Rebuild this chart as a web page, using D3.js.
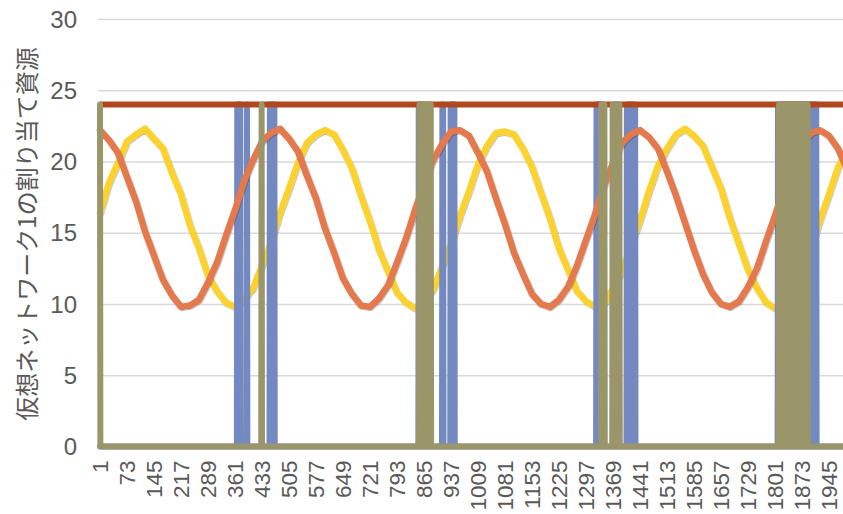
<!DOCTYPE html>
<html>
<head>
<meta charset="utf-8">
<script src="https://cdnjs.cloudflare.com/ajax/libs/d3/7.8.5/d3.min.js"></script>
<style>
	body { margin: 0; background: #fff; }
	svg { display: block; font-family: Arial, "Liberation Sans", sans-serif; }
</style>
</head>
<body>
<svg id="chart" width="843" height="514"></svg>
<script>

var categoryCount = 2000;
var sampleStep = 24;   // the two wave series were read every 24 categories
var capacity = 24;

var yTicks = [0, 5, 10, 15, 20, 25, 30];
var xTickLabels = [1, 73, 145, 217, 289, 361, 433, 505, 577, 649, 721, 793, 865, 937, 1009,
	1081, 1153, 1225, 1297, 1369, 1441, 1513, 1585, 1657, 1729, 1801, 1873, 1945];

// yellow series
var waveA = [16.4, 18.5, 19.9, 21.4, 21.9, 22.3, 21.6, 20.9, 19.2, 17.7,
	15.5, 13.9, 12.0, 10.9, 10.1, 9.8, 10.3, 11.1, 12.7, 14.3,
	16.4, 18.1, 19.9, 21.3, 21.9, 22.2, 21.9, 20.8, 19.5, 17.6,
	15.8, 13.8, 12.3, 10.8, 10.1, 9.7, 10.2, 11.0, 12.6, 14.2,
	16.2, 17.9, 19.8, 21.1, 22.0, 22.1, 21.9, 20.9, 19.6, 17.8,
	16.0, 13.9, 12.4, 10.9, 10.2, 9.8, 10.0, 11.1, 12.3, 14.1,
	15.9, 17.9, 19.7, 20.9, 21.9, 22.3, 21.8, 21.1, 19.6, 18.1,
	16.0, 14.2, 12.4, 11.1, 10.1, 9.7, 10.1, 10.8, 12.3, 13.9,
	15.9, 17.7, 19.6, 20.8];

// orange series
var waveB = [22.2, 21.5, 20.6, 18.9, 17.2, 15.1, 13.4, 11.7, 10.6, 9.8,
	9.9, 10.3, 11.5, 12.9, 14.8, 16.6, 18.6, 20.1, 21.4, 22.0,
	22.3, 21.6, 20.7, 19.0, 17.4, 15.3, 13.6, 11.8, 10.7, 9.9,
	9.8, 10.4, 11.3, 12.9, 14.6, 16.6, 18.4, 20.1, 21.2, 22.1,
	22.2, 21.8, 20.6, 19.3, 17.4, 15.6, 13.6, 12.1, 10.7, 10.0,
	9.8, 10.3, 11.2, 12.7, 14.5, 16.3, 18.3, 19.9, 21.3, 21.9,
	22.2, 21.7, 20.9, 19.3, 17.6, 15.7, 13.8, 12.1, 10.8, 10.0,
	9.8, 10.2, 11.2, 12.5, 14.4, 16.2, 18.2, 19.8, 21.2, 22.0,
	22.2, 21.8, 20.9, 19.5];

// category ranges where the series flip between 0 and full capacity
var blueBursts = [[367, 375], [393, 393], [454, 467], [851, 862], [914, 917], [936, 946],
	[1325, 1340], [1406, 1429], [1809, 1911]];
var oliveBursts = [[1, 1], [432, 432], [853, 884], [1338, 1347], [1368, 1386],
	[1812, 1855], [1858, 1889]];

var colors = { waveA: "#fcd22e", waveB: "#e4794d", cap: "#b1481d", blue: "#7589c1", olive: "#9a9669" };
var textColor = "#595959";

var plotLeft = 98;
var plotRight = 843;

var xScale = d3.scaleLinear()
	.domain([1, categoryCount])
	.range([100, 100 + (categoryCount - 1) * 0.375]);

var yScale = d3.scaleLinear()
	.domain([0, 30])
	.range([446.5, 19]);

var svg = d3.select("#chart");

// soft shadow like the spreadsheet line style
var shadow = svg.append("defs").append("filter")
	.attr("id", "shadow")
	.attr("x", "-5%").attr("y", "-5%")
	.attr("width", "110%").attr("height", "110%");
shadow.append("feDropShadow")
	.attr("dx", 0.6)
	.attr("dy", 0.8)
	.attr("stdDeviation", 0.5)
	.attr("flood-color", "#000")
	.attr("flood-opacity", 0.35);

// gridlines + y labels
var yAxis = svg.append("g")
	.attr("class", "y-axis")
	.attr("transform", "translate(" + plotLeft + ",0)")
	.call(d3.axisLeft(yScale).tickValues(yTicks).tickSize(-(plotRight - plotLeft)).tickPadding(21));

yAxis.select(".domain").remove();
yAxis.selectAll(".tick line")
	.attr("stroke", "#d9d9d9")
	.attr("stroke-width", 1.5);
yAxis.selectAll(".tick text")
	.attr("fill", textColor)
	.attr("font-size", 24)
	.attr("font-family", "Arial, 'Liberation Sans', sans-serif")
	.attr("dy", "0.34em");

// x labels
var xAxis = svg.append("g")
	.attr("class", "x-axis")
	.attr("transform", "translate(0," + yScale(0) + ")")
	.call(d3.axisBottom(xScale).tickValues(xTickLabels).tickSize(0).tickFormat(d3.format("d")));

xAxis.select(".domain").remove();
xAxis.selectAll(".tick text")
	.attr("fill", textColor)
	.attr("font-size", 22.5)
	.attr("font-family", "Arial, 'Liberation Sans', sans-serif")
	.attr("text-anchor", "end")
	.attr("transform", "rotate(-90)")
	.attr("x", -14)
	.attr("y", 0)
	.attr("dy", "0.35em");

// axis title
svg.append("text")
	.attr("transform", "translate(27,234) rotate(-90)")
	.attr("text-anchor", "middle")
	.attr("dy", "0.36em")
	.attr("fill", textColor)
	.attr("font-size", 24)
	.attr("font-family", "'Noto Sans CJK JP', sans-serif")
	.text("仮想ネットワーク1の割り当て資源");

function sampled(values) {
	return values.map(function(v, i) { return [1 + i * sampleStep, v]; });
}

function burstSeries(bursts) {
	var values = [];
	for (var c = 1; c <= categoryCount; c++) values.push([c, 0]);
	bursts.forEach(function(b) {
		for (var c = b[0]; c <= b[1]; c++) {
			values[c - 1][1] = ((c - b[0]) % 2 === 0) ? capacity : 0;
		}
	});
	return values;
}

var line = d3.line()
	.x(function(d) { return xScale(d[0]); })
	.y(function(d) { return yScale(d[1]); });

function drawTrack(data, color, width) {
	return svg.append("path")
		.datum(data)
		.attr("d", line)
		.attr("fill", "none")
		.attr("stroke", color)
		.attr("stroke-width", width)
		.attr("stroke-linejoin", "round")
		.attr("stroke-linecap", "round");
}

drawTrack(sampled(waveA), colors.waveA, 6.5).attr("filter", "url(#shadow)");
drawTrack(burstSeries(blueBursts), colors.blue, 6);
drawTrack(sampled(waveB), colors.waveB, 6.5).attr("filter", "url(#shadow)");
drawTrack([[1, capacity], [categoryCount, capacity]], colors.cap, 6).attr("stroke-linecap", "butt");
drawTrack(burstSeries(oliveBursts), colors.olive, 6);

</script>
</body>
</html>
